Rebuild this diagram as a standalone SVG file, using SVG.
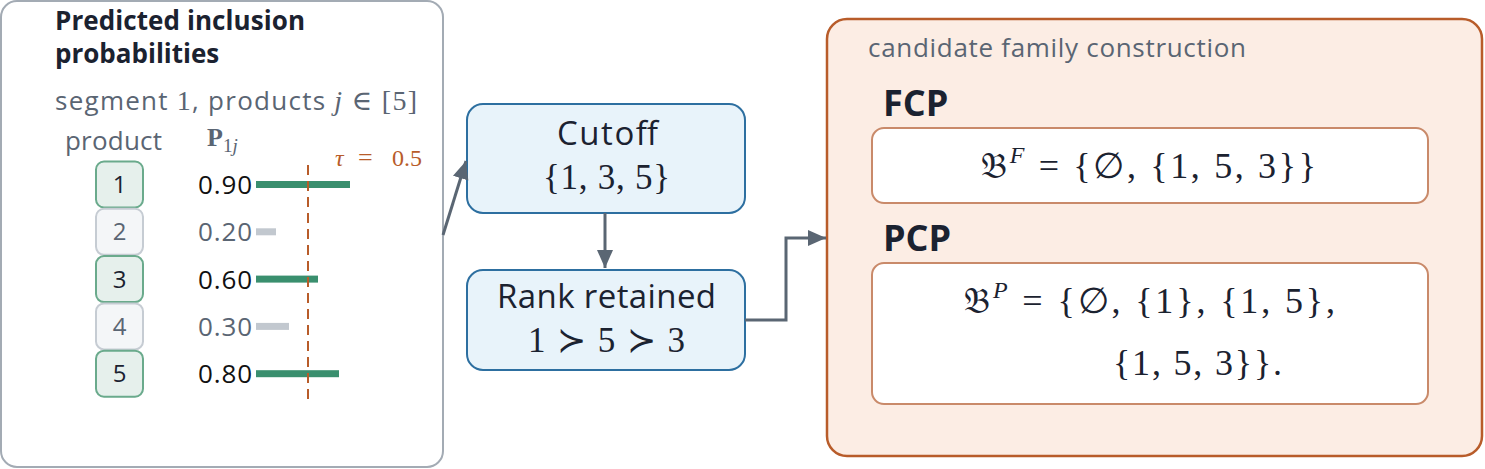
<svg xmlns="http://www.w3.org/2000/svg" width="1485" height="469" viewBox="0 0 1485 469">
<style>
.sans{font-family:"Open Sans","Liberation Sans",sans-serif}
.math{font-family:"Liberation Serif","DejaVu Serif",serif}
.gray{fill:#5a6573}
.dark{fill:#1b2230}
.pg{fill:#e6f0ec;stroke:#6aaa8c;stroke-width:2}
.pn{fill:#f4f6f8;stroke:#c6ccd3;stroke-width:2}
.bg{fill:#3a8f6e}
.bn{fill:#c2c8cf}
.val{font-size:26px}
.blue{fill:#e8f3fa;stroke:#2d6fa0;stroke-width:2}
.inner{fill:#ffffff;stroke:#c98a6a;stroke-width:2}
.conn{fill:none;stroke:#5a6673;stroke-width:3}
</style>
<defs>
<marker id="ah" markerUnits="userSpaceOnUse" markerWidth="20" markerHeight="18" refX="18" refY="8" orient="auto">
<path d="M0,0 L18,8 L0,16 z" fill="#5a6673"/>
</marker>
</defs>

<g id="panel-probabilities">
<rect x="1" y="1" width="442" height="466" rx="16" fill="#ffffff" stroke="#a3abb4" stroke-width="2"/>
<text class="sans dark" x="55" y="30" font-size="26" font-weight="bold" textLength="250">Predicted inclusion</text>
<text class="sans dark" x="55" y="63" font-size="26" font-weight="bold">probabilities</text>
<text class="gray" x="55" y="110" font-size="26" textLength="362"><tspan class="sans">segment </tspan><tspan class="math" font-size="28">1</tspan><tspan class="sans">, products </tspan><tspan class="math" font-style="italic" font-size="28">j</tspan><tspan class="math" font-size="28"> ∈ [5]</tspan></text>
<text class="sans gray" x="65" y="150" font-size="26" textLength="97">product</text>
<text class="math gray" x="207" y="146" font-size="26" font-weight="bold">P<tspan font-size="19" font-weight="normal" dy="6">1</tspan><tspan font-size="19" font-weight="normal" font-style="italic">j</tspan></text>
<text class="math" y="166" font-size="24" fill="#b85c2a"><tspan x="335" font-style="italic">τ</tspan><tspan x="358" font-size="26">=</tspan><tspan x="392">0.5</tspan></text>
</g>

<g id="product-1">
<rect class="pg" x="96" y="161.5" width="47" height="46" rx="8"/>
<text class="sans dark" x="119.5" y="193" font-size="24" text-anchor="middle">1</text>
<text class="sans val" x="198" y="194" textLength="54" fill="#111">0.90</text>
<rect class="bg" x="256" y="181" width="94" height="7"/>
</g>
<g id="product-2">
<rect class="pn" x="96" y="208.8" width="47" height="46" rx="8"/>
<text class="sans gray" x="119.5" y="240.3" font-size="24" text-anchor="middle">2</text>
<text class="sans val gray" x="198" y="241.3" textLength="54">0.20</text>
<rect class="bn" x="256" y="228.3" width="20" height="7"/>
</g>
<g id="product-3">
<rect class="pg" x="96" y="256.1" width="47" height="46" rx="8"/>
<text class="sans dark" x="119.5" y="287.6" font-size="24" text-anchor="middle">3</text>
<text class="sans val" x="198" y="288.6" textLength="54" fill="#111">0.60</text>
<rect class="bg" x="256" y="275.6" width="62" height="7"/>
</g>
<g id="product-4">
<rect class="pn" x="96" y="303.4" width="47" height="46" rx="8"/>
<text class="sans gray" x="119.5" y="334.9" font-size="24" text-anchor="middle">4</text>
<text class="sans val gray" x="198" y="335.9" textLength="54">0.30</text>
<rect class="bn" x="256" y="322.9" width="33" height="7"/>
</g>
<g id="product-5">
<rect class="pg" x="96" y="350.7" width="47" height="46" rx="8"/>
<text class="sans dark" x="119.5" y="382.2" font-size="24" text-anchor="middle">5</text>
<text class="sans val" x="198" y="383.2" textLength="54" fill="#111">0.80</text>
<rect class="bg" x="256" y="370.2" width="83" height="7"/>
</g>
<g id="threshold">
<line x1="308" y1="165" x2="308" y2="402" stroke="#b85c2a" stroke-width="2" stroke-dasharray="10 6"/>
</g>

<g id="cutoff">
<rect class="blue" x="467" y="104" width="278" height="109" rx="16"/>
<text class="sans dark" x="557" y="145" font-size="33" textLength="101">Cutoff</text>
<text class="math dark" x="543" y="189" font-size="35" textLength="127">{1, 3, 5}</text>
</g>

<g id="rank-retained">
<rect class="blue" x="467" y="270" width="278" height="100" rx="16"/>
<text class="sans dark" x="497" y="308" font-size="33" textLength="219">Rank retained</text>
<text class="math dark" x="528" y="352" font-size="35" textLength="157">1 ≻ 5 ≻ 3</text>
</g>

<g id="panel-candidate">
<rect x="827" y="19" width="655" height="437" rx="20" fill="#fcede4" stroke="#b85c2a" stroke-width="2.5"/>
<text class="sans gray" x="868" y="57" font-size="26" textLength="378">candidate family construction</text>
</g>

<g id="fcp">
<text class="sans dark" x="883" y="116" font-size="36" font-weight="bold">FCP</text>
<rect class="inner" x="872" y="128" width="556" height="75" rx="12"/>
<text class="math dark" x="981" y="178" font-size="36" textLength="335">𝔅<tspan font-size="24" font-style="italic" dy="-15">F</tspan><tspan dy="15"> = {∅, {1, 5, 3}}</tspan></text>
</g>

<g id="pcp">
<text class="sans dark" x="883" y="251" font-size="36" font-weight="bold">PCP</text>
<rect class="inner" x="872" y="263" width="556" height="141" rx="12"/>
<text class="math dark" x="964" y="313" font-size="36" textLength="371">𝔅<tspan font-size="24" font-style="italic" dy="-15">P</tspan><tspan dy="15"> = {∅, {1}, {1, 5},</tspan></text>
<text class="math dark" x="1113" y="375" font-size="36" textLength="169">{1, 5, 3}}.</text>
</g>

<g id="connectors">
<line class="conn" x1="443" y1="235" x2="466" y2="161" marker-end="url(#ah)"/>
<line class="conn" x1="605" y1="213" x2="605" y2="268" marker-end="url(#ah)"/>
<path class="conn" d="M745,320 H786 V238 H826" marker-end="url(#ah)"/>
</g>
</svg>
